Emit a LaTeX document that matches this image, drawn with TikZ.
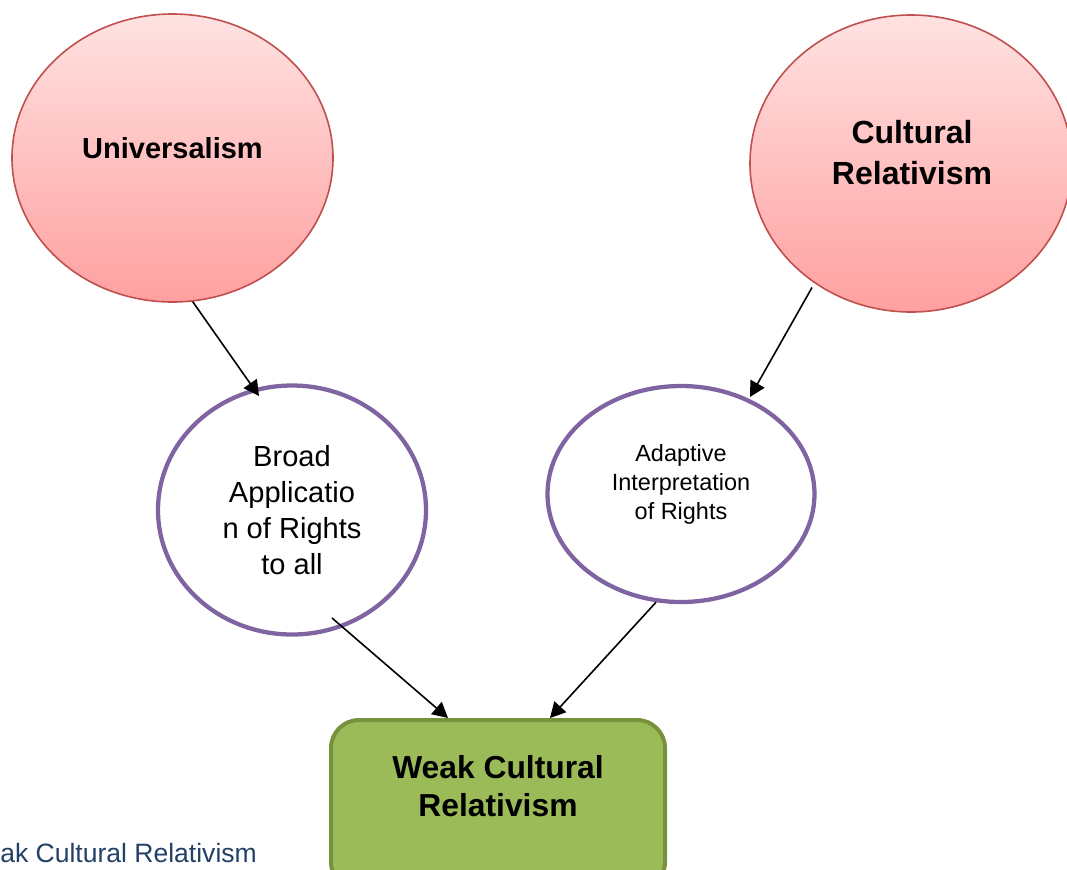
\documentclass[tikz,border=0pt]{standalone}
\usepackage{fontspec}
\setmainfont{Liberation Sans}
\usetikzlibrary{shapes.geometric,arrows.meta,calc}
\definecolor{redline}{HTML}{C0504D}
\definecolor{pinktop}{RGB}{255,226,226}
\definecolor{pinkbot}{RGB}{255,160,160}
\definecolor{purpleline}{HTML}{8064A2}
\definecolor{greenfill}{HTML}{9BBB59}
\definecolor{greenline}{HTML}{76923C}
\definecolor{captionblue}{RGB}{35,64,102}

\begin{document}
\begin{tikzpicture}[x=0.75pt,y=-0.75pt,
  bigoval/.style={ellipse, draw=redline, line width=1.2pt,
    top color=pinktop, bottom color=pinkbot, inner sep=0pt},
  ringoval/.style={ellipse, draw=purpleline, line width=3.2pt, fill=white, inner sep=0pt},
  resultbox/.style={rectangle, rounded corners=21pt, draw=greenline, line width=3pt,
    fill=greenfill, inner sep=0pt, minimum width=250.5pt, minimum height=127.5pt},
  lbl/.style={align=center, inner sep=0pt, text=black},
  conn/.style={draw=black, line width=1.2pt, -{Triangle[length=11.5pt,width=12pt]}}
]
\useasboundingbox (0,0) rectangle (1067,869);

% the two source positions
\node[bigoval, minimum width=240.75pt, minimum height=216pt] (u) at (172.5,158) {};
\node[bigoval, minimum width=241.5pt, minimum height=222.75pt] (c) at (911,163.5) {};

% the two intermediate views
\node[ringoval, minimum width=201pt, minimum height=186.75pt] (b) at (292,510) {};
\node[ringoval, minimum width=200.25pt, minimum height=162pt] (a) at (681,494) {};

% the resulting position
\node[resultbox, anchor=north] (w) at (498,718) {};

% texts
\node[lbl, font=\bfseries\fontsize{21.75}{27}\selectfont] (ut) at ($(u.center)+(0,-10)$) {Universalism};
\node[lbl, font=\bfseries\fontsize{24}{30.75}\selectfont] (ct) at (912,152.5) {Cultural\\Relativism};
\node[lbl, font=\fontsize{21.8}{27}\selectfont] (bt) at (b.center) {Broad\\Applicatio\\n of Rights\\to all};
\node[lbl, font=\fontsize{17.6}{21.75}\selectfont] (at) at ($(a.center)+(0,-10)$) {Adaptive\\Interpretation\\of Rights};
\node[lbl, font=\bfseries\fontsize{23.85}{28.5}\selectfont] (wt) at (498,786) {Weak Cultural\\Relativism};

\node[anchor=west, inner sep=0pt, text=captionblue, font=\fontsize{19.9}{24}\selectfont] (ft) at (0,853) {ak Cultural Relativism};

% connectors
\draw[conn] (u.-82) -- ($(b.center)+(-33,-114)$);
\draw[conn] ($(c.center)+(-99,124)$) -- ($(a.center)+(69,-97)$);
\draw[conn] ($(b.center)+(40,108)$) -- ([xshift=-37.5pt]w.north);
\draw[conn] (a.-103.7) -- ([xshift=39pt]w.north);
\end{tikzpicture}
\end{document}
